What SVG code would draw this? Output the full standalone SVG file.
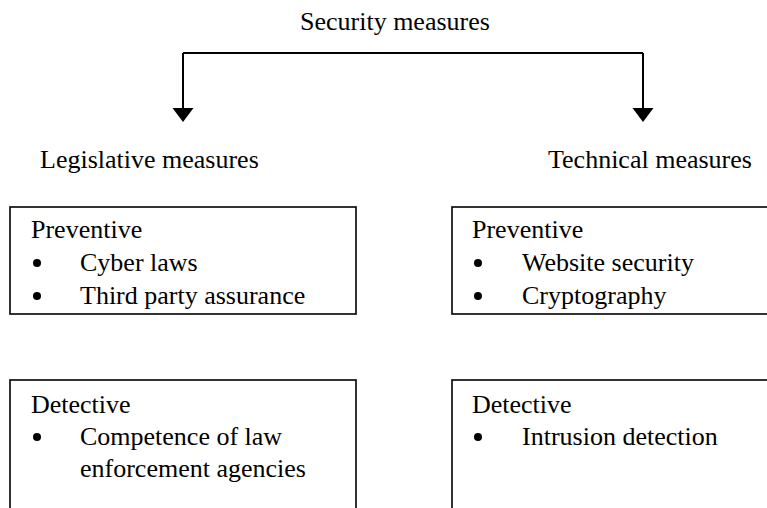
<svg xmlns="http://www.w3.org/2000/svg" width="767" height="508" viewBox="0 0 767 508">
  <style>
    text { font-family: "Liberation Serif", "Times New Roman", serif; font-size: 26px; fill: #000; }
    .box { fill: #fff; stroke: #000; stroke-width: 1.6; }
    .link { fill: none; stroke: #000; stroke-width: 2; }
    .head { fill: #000; }
    .dot { fill: #000; }
  </style>

  <rect width="767" height="508" fill="#fff"/>

  <g id="root">
    <text x="300" y="30">Security measures</text>
  </g>

  <g id="connectors">
    <path class="link" d="M183,53 H643"/>
    <path class="link" d="M183,53 V110"/>
    <path class="link" d="M643,53 V110"/>
    <polygon class="head" points="172.5,108 193.5,108 183,122"/>
    <polygon class="head" points="632.5,108 653.5,108 643,122"/>
  </g>

  <g id="legislative">
    <text x="40" y="168">Legislative measures</text>
  </g>

  <g id="technical">
    <text x="548" y="168">Technical measures</text>
  </g>

  <g id="legislative-preventive">
    <rect class="box" x="10" y="207" width="346" height="107"/>
    <text x="31" y="238">Preventive</text>
    <circle class="dot" cx="37" cy="263" r="4"/>
    <text x="80" y="271">Cyber laws</text>
    <circle class="dot" cx="37" cy="296" r="4"/>
    <text x="80" y="304">Third party assurance</text>
  </g>

  <g id="technical-preventive">
    <rect class="box" x="452" y="207" width="330" height="107"/>
    <text x="472" y="238">Preventive</text>
    <circle class="dot" cx="478" cy="263" r="4"/>
    <text x="522" y="271">Website security</text>
    <circle class="dot" cx="478" cy="296" r="4"/>
    <text x="522" y="304">Cryptography</text>
  </g>

  <g id="legislative-detective">
    <rect class="box" x="10" y="380" width="346" height="140"/>
    <text x="31" y="413">Detective</text>
    <circle class="dot" cx="37" cy="437" r="4"/>
    <text x="80" y="445">Competence of law</text>
    <text x="80" y="477">enforcement agencies</text>
  </g>

  <g id="technical-detective">
    <rect class="box" x="452" y="380" width="330" height="140"/>
    <text x="472" y="413">Detective</text>
    <circle class="dot" cx="478" cy="437" r="4"/>
    <text x="522" y="445">Intrusion detection</text>
  </g>
</svg>
